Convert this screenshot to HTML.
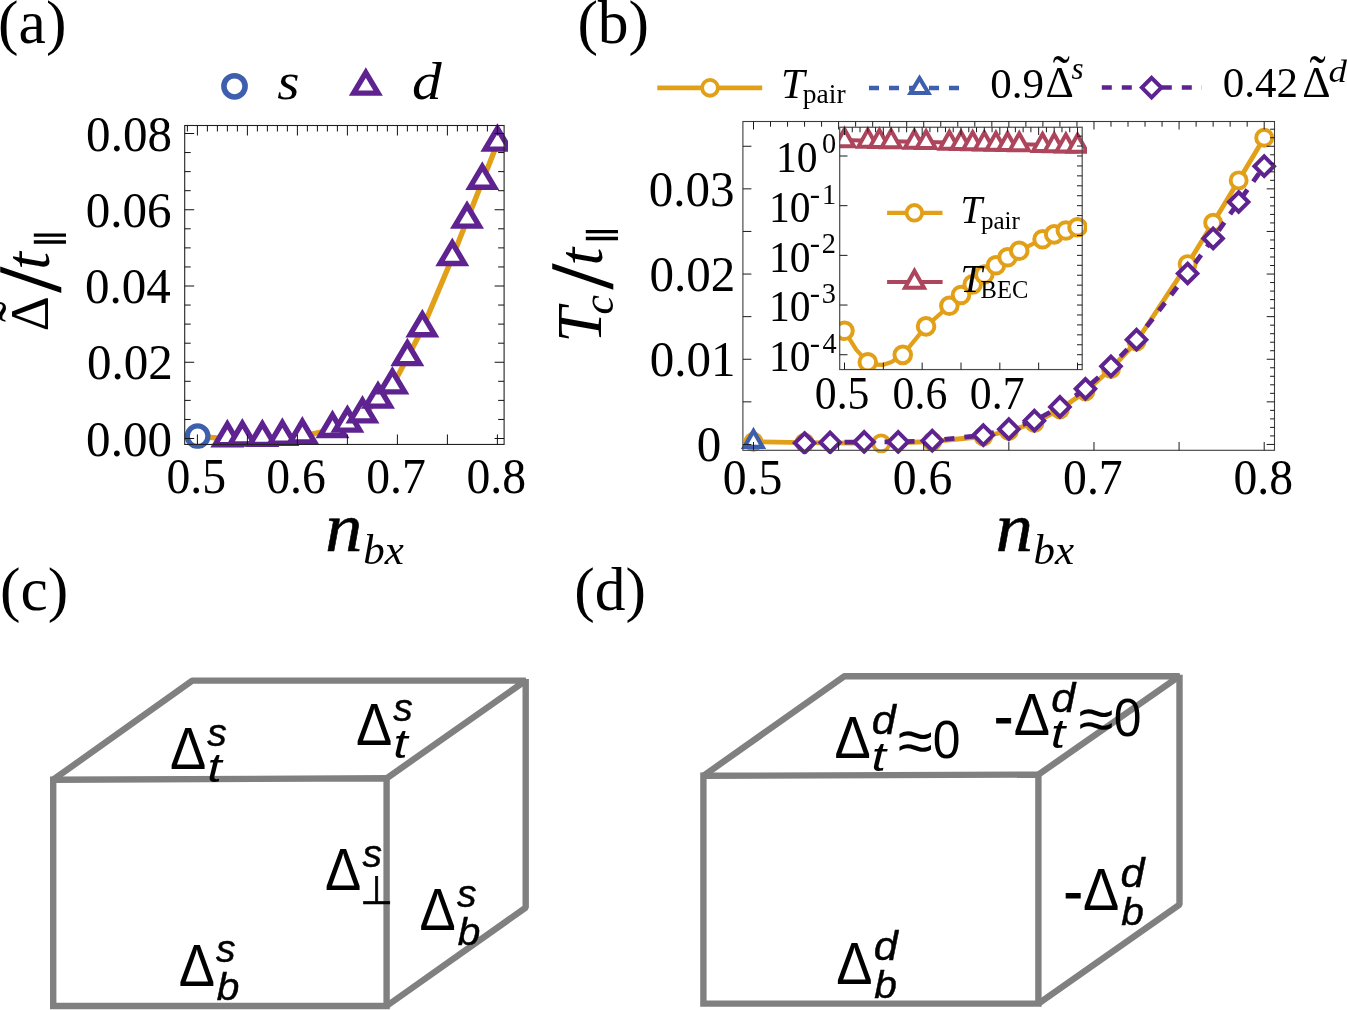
<!DOCTYPE html>
<html lang="en"><head><meta charset="utf-8"><title>Figure</title>
<style>
html,body{margin:0;padding:0;background:#fff;}
body{width:1347px;height:1010px;overflow:hidden;font-family:"Liberation Serif",serif;}
svg{display:block;}
svg text{font-kerning:none;white-space:pre;}
</style></head><body>
<svg width="1347" height="1010" viewBox="0 0 1347 1010">
<rect width="1347" height="1010" fill="#fff"/>
<text x="-1.90" y="43.30" font-family='"Liberation Serif", serif' font-size="61.5" fill="#000">(a)</text>
<text x="577.40" y="43.30" font-family='"Liberation Serif", serif' font-size="61.5" fill="#000">(b)</text>
<text x="-0.10" y="609.80" font-family='"Liberation Serif", serif' font-size="61.5" fill="#000">(c)</text>
<text x="574.20" y="609.80" font-family='"Liberation Serif", serif' font-size="61.5" fill="#000">(d)</text>
<clipPath id="ca"><rect x="184.2" y="121.2" width="323.8" height="327.55"/></clipPath>
<g clip-path="url(#ca)">
<path d="M197.60 436.20L227.35 438.90L242.35 438.20L262.35 438.60L282.35 437.40L302.35 436.20L332.50 429.70L347.40 424.30L362.50 415.10L378.00 400.30L392.40 386.10L407.35 357.80L422.35 328.90L452.30 257.70L467.00 220.30L482.30 181.40L497.40 143.30" fill="none" stroke="#E2A018" stroke-width="5.4" stroke-linejoin="round"/>
<circle cx="197.60" cy="436.20" r="10.3" fill="#fff" stroke="#3E5FAD" stroke-width="5.2"/>
<path d="M227.35 424.10L239.60 444.70L215.10 444.70Z" fill="#fff" stroke="#5E2390" stroke-width="5.4" stroke-linejoin="miter" stroke-miterlimit="10"/>
<path d="M242.35 423.40L254.60 444.00L230.10 444.00Z" fill="#fff" stroke="#5E2390" stroke-width="5.4" stroke-linejoin="miter" stroke-miterlimit="10"/>
<path d="M262.35 423.80L274.60 444.40L250.10 444.40Z" fill="#fff" stroke="#5E2390" stroke-width="5.4" stroke-linejoin="miter" stroke-miterlimit="10"/>
<path d="M282.35 422.60L294.60 443.20L270.10 443.20Z" fill="#fff" stroke="#5E2390" stroke-width="5.4" stroke-linejoin="miter" stroke-miterlimit="10"/>
<path d="M302.35 421.40L314.60 442.00L290.10 442.00Z" fill="#fff" stroke="#5E2390" stroke-width="5.4" stroke-linejoin="miter" stroke-miterlimit="10"/>
<path d="M332.50 414.90L344.75 435.50L320.25 435.50Z" fill="#fff" stroke="#5E2390" stroke-width="5.4" stroke-linejoin="miter" stroke-miterlimit="10"/>
<path d="M347.40 409.50L359.65 430.10L335.15 430.10Z" fill="#fff" stroke="#5E2390" stroke-width="5.4" stroke-linejoin="miter" stroke-miterlimit="10"/>
<path d="M362.50 400.30L374.75 420.90L350.25 420.90Z" fill="#fff" stroke="#5E2390" stroke-width="5.4" stroke-linejoin="miter" stroke-miterlimit="10"/>
<path d="M378.00 385.50L390.25 406.10L365.75 406.10Z" fill="#fff" stroke="#5E2390" stroke-width="5.4" stroke-linejoin="miter" stroke-miterlimit="10"/>
<path d="M392.40 371.30L404.65 391.90L380.15 391.90Z" fill="#fff" stroke="#5E2390" stroke-width="5.4" stroke-linejoin="miter" stroke-miterlimit="10"/>
<path d="M407.35 343.00L419.60 363.60L395.10 363.60Z" fill="#fff" stroke="#5E2390" stroke-width="5.4" stroke-linejoin="miter" stroke-miterlimit="10"/>
<path d="M422.35 314.10L434.60 334.70L410.10 334.70Z" fill="#fff" stroke="#5E2390" stroke-width="5.4" stroke-linejoin="miter" stroke-miterlimit="10"/>
<path d="M452.30 242.90L464.55 263.50L440.05 263.50Z" fill="#fff" stroke="#5E2390" stroke-width="5.4" stroke-linejoin="miter" stroke-miterlimit="10"/>
<path d="M467.00 205.50L479.25 226.10L454.75 226.10Z" fill="#fff" stroke="#5E2390" stroke-width="5.4" stroke-linejoin="miter" stroke-miterlimit="10"/>
<path d="M482.30 166.60L494.55 187.20L470.05 187.20Z" fill="#fff" stroke="#5E2390" stroke-width="5.4" stroke-linejoin="miter" stroke-miterlimit="10"/>
<path d="M497.40 128.50L509.65 149.10L485.15 149.10Z" fill="#fff" stroke="#5E2390" stroke-width="5.4" stroke-linejoin="miter" stroke-miterlimit="10"/>
</g>
<rect x="184.7" y="125.5" width="319.40000000000003" height="318.95" fill="none" stroke="#222" stroke-width="1.1"/>
<line x1="187.40" y1="125.50" x2="187.40" y2="131.50" stroke="#111" stroke-width="1"/>
<line x1="197.40" y1="125.50" x2="197.40" y2="135.50" stroke="#111" stroke-width="1"/>
<line x1="197.40" y1="444.45" x2="197.40" y2="434.45" stroke="#111" stroke-width="1"/>
<line x1="207.40" y1="125.50" x2="207.40" y2="131.50" stroke="#111" stroke-width="1"/>
<line x1="217.40" y1="125.50" x2="217.40" y2="131.50" stroke="#111" stroke-width="1"/>
<line x1="227.40" y1="125.50" x2="227.40" y2="131.50" stroke="#111" stroke-width="1"/>
<line x1="237.40" y1="125.50" x2="237.40" y2="131.50" stroke="#111" stroke-width="1"/>
<line x1="247.40" y1="125.50" x2="247.40" y2="135.50" stroke="#111" stroke-width="1"/>
<line x1="247.40" y1="444.45" x2="247.40" y2="434.45" stroke="#111" stroke-width="1"/>
<line x1="257.40" y1="125.50" x2="257.40" y2="131.50" stroke="#111" stroke-width="1"/>
<line x1="267.40" y1="125.50" x2="267.40" y2="131.50" stroke="#111" stroke-width="1"/>
<line x1="277.40" y1="125.50" x2="277.40" y2="131.50" stroke="#111" stroke-width="1"/>
<line x1="287.40" y1="125.50" x2="287.40" y2="131.50" stroke="#111" stroke-width="1"/>
<line x1="297.40" y1="125.50" x2="297.40" y2="135.50" stroke="#111" stroke-width="1"/>
<line x1="297.40" y1="444.45" x2="297.40" y2="434.45" stroke="#111" stroke-width="1"/>
<line x1="307.40" y1="125.50" x2="307.40" y2="131.50" stroke="#111" stroke-width="1"/>
<line x1="317.40" y1="125.50" x2="317.40" y2="131.50" stroke="#111" stroke-width="1"/>
<line x1="327.40" y1="125.50" x2="327.40" y2="131.50" stroke="#111" stroke-width="1"/>
<line x1="337.40" y1="125.50" x2="337.40" y2="131.50" stroke="#111" stroke-width="1"/>
<line x1="347.40" y1="125.50" x2="347.40" y2="135.50" stroke="#111" stroke-width="1"/>
<line x1="347.40" y1="444.45" x2="347.40" y2="434.45" stroke="#111" stroke-width="1"/>
<line x1="357.40" y1="125.50" x2="357.40" y2="131.50" stroke="#111" stroke-width="1"/>
<line x1="367.40" y1="125.50" x2="367.40" y2="131.50" stroke="#111" stroke-width="1"/>
<line x1="377.40" y1="125.50" x2="377.40" y2="131.50" stroke="#111" stroke-width="1"/>
<line x1="387.40" y1="125.50" x2="387.40" y2="131.50" stroke="#111" stroke-width="1"/>
<line x1="397.40" y1="125.50" x2="397.40" y2="135.50" stroke="#111" stroke-width="1"/>
<line x1="397.40" y1="444.45" x2="397.40" y2="434.45" stroke="#111" stroke-width="1"/>
<line x1="407.40" y1="125.50" x2="407.40" y2="131.50" stroke="#111" stroke-width="1"/>
<line x1="417.40" y1="125.50" x2="417.40" y2="131.50" stroke="#111" stroke-width="1"/>
<line x1="427.40" y1="125.50" x2="427.40" y2="131.50" stroke="#111" stroke-width="1"/>
<line x1="437.40" y1="125.50" x2="437.40" y2="131.50" stroke="#111" stroke-width="1"/>
<line x1="447.40" y1="125.50" x2="447.40" y2="135.50" stroke="#111" stroke-width="1"/>
<line x1="447.40" y1="444.45" x2="447.40" y2="434.45" stroke="#111" stroke-width="1"/>
<line x1="457.40" y1="125.50" x2="457.40" y2="131.50" stroke="#111" stroke-width="1"/>
<line x1="467.40" y1="125.50" x2="467.40" y2="131.50" stroke="#111" stroke-width="1"/>
<line x1="477.40" y1="125.50" x2="477.40" y2="131.50" stroke="#111" stroke-width="1"/>
<line x1="487.40" y1="125.50" x2="487.40" y2="131.50" stroke="#111" stroke-width="1"/>
<line x1="497.40" y1="125.50" x2="497.40" y2="135.50" stroke="#111" stroke-width="1"/>
<line x1="497.40" y1="444.45" x2="497.40" y2="434.45" stroke="#111" stroke-width="1"/>
<line x1="184.70" y1="438.50" x2="194.20" y2="438.50" stroke="#111" stroke-width="1"/>
<line x1="504.10" y1="438.50" x2="494.60" y2="438.50" stroke="#111" stroke-width="1"/>
<line x1="184.70" y1="419.44" x2="190.70" y2="419.44" stroke="#111" stroke-width="1"/>
<line x1="504.10" y1="419.44" x2="498.10" y2="419.44" stroke="#111" stroke-width="1"/>
<line x1="184.70" y1="400.38" x2="190.70" y2="400.38" stroke="#111" stroke-width="1"/>
<line x1="504.10" y1="400.38" x2="498.10" y2="400.38" stroke="#111" stroke-width="1"/>
<line x1="184.70" y1="381.31" x2="190.70" y2="381.31" stroke="#111" stroke-width="1"/>
<line x1="504.10" y1="381.31" x2="498.10" y2="381.31" stroke="#111" stroke-width="1"/>
<line x1="184.70" y1="362.25" x2="194.20" y2="362.25" stroke="#111" stroke-width="1"/>
<line x1="504.10" y1="362.25" x2="494.60" y2="362.25" stroke="#111" stroke-width="1"/>
<line x1="184.70" y1="343.19" x2="190.70" y2="343.19" stroke="#111" stroke-width="1"/>
<line x1="504.10" y1="343.19" x2="498.10" y2="343.19" stroke="#111" stroke-width="1"/>
<line x1="184.70" y1="324.12" x2="190.70" y2="324.12" stroke="#111" stroke-width="1"/>
<line x1="504.10" y1="324.12" x2="498.10" y2="324.12" stroke="#111" stroke-width="1"/>
<line x1="184.70" y1="305.06" x2="190.70" y2="305.06" stroke="#111" stroke-width="1"/>
<line x1="504.10" y1="305.06" x2="498.10" y2="305.06" stroke="#111" stroke-width="1"/>
<line x1="184.70" y1="286.00" x2="194.20" y2="286.00" stroke="#111" stroke-width="1"/>
<line x1="504.10" y1="286.00" x2="494.60" y2="286.00" stroke="#111" stroke-width="1"/>
<line x1="184.70" y1="266.94" x2="190.70" y2="266.94" stroke="#111" stroke-width="1"/>
<line x1="504.10" y1="266.94" x2="498.10" y2="266.94" stroke="#111" stroke-width="1"/>
<line x1="184.70" y1="247.88" x2="190.70" y2="247.88" stroke="#111" stroke-width="1"/>
<line x1="504.10" y1="247.88" x2="498.10" y2="247.88" stroke="#111" stroke-width="1"/>
<line x1="184.70" y1="228.81" x2="190.70" y2="228.81" stroke="#111" stroke-width="1"/>
<line x1="504.10" y1="228.81" x2="498.10" y2="228.81" stroke="#111" stroke-width="1"/>
<line x1="184.70" y1="209.75" x2="194.20" y2="209.75" stroke="#111" stroke-width="1"/>
<line x1="504.10" y1="209.75" x2="494.60" y2="209.75" stroke="#111" stroke-width="1"/>
<line x1="184.70" y1="190.69" x2="190.70" y2="190.69" stroke="#111" stroke-width="1"/>
<line x1="504.10" y1="190.69" x2="498.10" y2="190.69" stroke="#111" stroke-width="1"/>
<line x1="184.70" y1="171.62" x2="190.70" y2="171.62" stroke="#111" stroke-width="1"/>
<line x1="504.10" y1="171.62" x2="498.10" y2="171.62" stroke="#111" stroke-width="1"/>
<line x1="184.70" y1="152.56" x2="190.70" y2="152.56" stroke="#111" stroke-width="1"/>
<line x1="504.10" y1="152.56" x2="498.10" y2="152.56" stroke="#111" stroke-width="1"/>
<line x1="184.70" y1="133.50" x2="194.20" y2="133.50" stroke="#111" stroke-width="1"/>
<line x1="504.10" y1="133.50" x2="494.60" y2="133.50" stroke="#111" stroke-width="1"/>
<text x="0" y="0" transform="translate(86.11 455.60) scale(0.9620 1)" font-family='"Liberation Serif", serif' font-size="51" fill="#000">0.00</text>
<text x="0" y="0" transform="translate(86.95 379.35) scale(0.9620 1)" font-family='"Liberation Serif", serif' font-size="51" fill="#000">0.02</text>
<text x="0" y="0" transform="translate(85.01 303.10) scale(0.9620 1)" font-family='"Liberation Serif", serif' font-size="51" fill="#000">0.04</text>
<text x="0" y="0" transform="translate(85.70 226.85) scale(0.9620 1)" font-family='"Liberation Serif", serif' font-size="51" fill="#000">0.06</text>
<text x="0" y="0" transform="translate(86.11 150.60) scale(0.9620 1)" font-family='"Liberation Serif", serif' font-size="51" fill="#000">0.08</text>
<text x="0" y="0" transform="translate(166.42 492.50) scale(0.9350 1)" font-family='"Liberation Serif", serif' font-size="51" fill="#000">0.5</text>
<text x="0" y="0" transform="translate(266.20 492.50) scale(0.9350 1)" font-family='"Liberation Serif", serif' font-size="51" fill="#000">0.6</text>
<text x="0" y="0" transform="translate(366.18 492.50) scale(0.9350 1)" font-family='"Liberation Serif", serif' font-size="51" fill="#000">0.7</text>
<text x="0" y="0" transform="translate(466.40 492.50) scale(0.9350 1)" font-family='"Liberation Serif", serif' font-size="51" fill="#000">0.8</text>
<circle cx="234.50" cy="86.30" r="10.6" fill="#fff" stroke="#3E5FAD" stroke-width="5.55"/>
<text x="0" y="0" transform="translate(277.20 99.00) scale(1.0800 1)" font-family='"Liberation Serif", serif' font-size="53" font-style="italic" fill="#000">s</text>
<path d="M365.84 72.53L378.09 93.13L353.59 93.13Z" fill="#fff" stroke="#5E2390" stroke-width="5.4" stroke-linejoin="miter" stroke-miterlimit="10"/>
<text x="0" y="0" transform="translate(411.90 99.00) scale(1.1200 1)" font-family='"Liberation Serif", serif' font-size="53" font-style="italic" fill="#000">d</text>
<text x="0" y="0" transform="translate(325.26 550.80) scale(1.0600 1)" font-family='"Liberation Serif", serif' font-size="70" font-style="italic" fill="#000" stroke="#000" stroke-width="0.6" stroke-linejoin="round">n</text>
<text x="363.30" y="563.80" font-family='"Liberation Serif", serif' font-size="43" font-style="italic" fill="#000">bx</text>
<g transform="translate(48.3 329.2) rotate(-90)">
<text x="0" y="0" transform="translate(-2.08 0.00) scale(1.0100 1)" font-family='"Liberation Serif", serif' font-size="54" fill="#000">Δ</text>
<text x="0" y="0" transform="translate(6.95 -12.50) scale(1.1500 1)" font-family='"Liberation Serif", serif' font-size="54" fill="#000">˜</text>
</g>
<g transform="translate(48.3 291.9) rotate(-90)">
<text x="0.00" y="11.00" font-family='"Liberation Serif", serif' font-size="88" fill="#000" stroke="#000" stroke-width="1.6">/</text>
</g>
<g transform="translate(48.8 267.0) rotate(-90)">
<text x="-2.81" y="0.00" font-family='"Liberation Serif", serif' font-size="64" font-style="italic" fill="#000">t</text>
</g>
<g transform="translate(59.1 243.8) rotate(-90)">
<text x="0" y="0" transform="translate(-5.91 0.00) scale(1.3600 1)" font-family='"DejaVu Sans", sans-serif' font-size="32.7" fill="#000">∥</text>
</g>
<clipPath id="cb"><rect x="740.4" y="117.5" width="538.1" height="336.8"/></clipPath>
<g clip-path="url(#cb)">
<path d="M753.50 441.80L804.57 442.60L881.17 443.40L932.25 441.50L983.32 436.50L1008.85 431.00L1034.39 423.00L1059.92 409.50L1085.45 391.50L1110.99 369.00L1136.53 341.50L1187.60 264.10L1213.13 222.70L1238.66 180.40L1264.20 137.80" fill="none" stroke="#E2A018" stroke-width="4.8" stroke-linejoin="round"/>
<circle cx="753.50" cy="441.80" r="8.0" fill="#fff" stroke="#E2A018" stroke-width="3.9"/>
<circle cx="804.57" cy="442.60" r="8.0" fill="#fff" stroke="#E2A018" stroke-width="3.9"/>
<circle cx="881.17" cy="443.40" r="8.0" fill="#fff" stroke="#E2A018" stroke-width="3.9"/>
<circle cx="932.25" cy="441.50" r="8.0" fill="#fff" stroke="#E2A018" stroke-width="3.9"/>
<circle cx="983.32" cy="436.50" r="8.0" fill="#fff" stroke="#E2A018" stroke-width="3.9"/>
<circle cx="1008.85" cy="431.00" r="8.0" fill="#fff" stroke="#E2A018" stroke-width="3.9"/>
<circle cx="1034.39" cy="423.00" r="8.0" fill="#fff" stroke="#E2A018" stroke-width="3.9"/>
<circle cx="1059.92" cy="409.50" r="8.0" fill="#fff" stroke="#E2A018" stroke-width="3.9"/>
<circle cx="1085.45" cy="391.50" r="8.0" fill="#fff" stroke="#E2A018" stroke-width="3.9"/>
<circle cx="1110.99" cy="369.00" r="8.0" fill="#fff" stroke="#E2A018" stroke-width="3.9"/>
<circle cx="1136.53" cy="341.50" r="8.0" fill="#fff" stroke="#E2A018" stroke-width="3.9"/>
<circle cx="1187.60" cy="264.10" r="8.0" fill="#fff" stroke="#E2A018" stroke-width="3.9"/>
<circle cx="1213.13" cy="222.70" r="8.0" fill="#fff" stroke="#E2A018" stroke-width="3.9"/>
<circle cx="1238.66" cy="180.40" r="8.0" fill="#fff" stroke="#E2A018" stroke-width="3.9"/>
<circle cx="1264.20" cy="137.80" r="8.0" fill="#fff" stroke="#E2A018" stroke-width="3.9"/>
<path d="M753.50 431.00L762.60 446.95L744.40 446.95Z" fill="#fff" stroke="#3E5FAD" stroke-width="4.2" stroke-linejoin="miter" stroke-miterlimit="10"/>
<path d="M804.57 443.00L830.11 442.40L864.15 441.90L898.20 441.90L932.25 440.70L983.32 435.10L1008.85 429.20L1034.39 420.70L1059.92 406.90L1085.45 388.80L1110.99 366.30L1136.53 339.70L1187.60 273.50L1213.13 238.40L1238.66 202.00L1264.20 166.20" fill="none" stroke="#5E2390" stroke-width="4.8" stroke-linejoin="round" stroke-dasharray="10 10"/>
<path d="M804.57 433.25L814.32 443.00L804.57 452.75L794.82 443.00Z" fill="#fff" stroke="#5E2390" stroke-width="4" stroke-linejoin="miter"/>
<path d="M830.11 432.65L839.86 442.40L830.11 452.15L820.36 442.40Z" fill="#fff" stroke="#5E2390" stroke-width="4" stroke-linejoin="miter"/>
<path d="M864.15 432.15L873.90 441.90L864.15 451.65L854.40 441.90Z" fill="#fff" stroke="#5E2390" stroke-width="4" stroke-linejoin="miter"/>
<path d="M898.20 432.15L907.95 441.90L898.20 451.65L888.45 441.90Z" fill="#fff" stroke="#5E2390" stroke-width="4" stroke-linejoin="miter"/>
<path d="M932.25 430.95L942.00 440.70L932.25 450.45L922.50 440.70Z" fill="#fff" stroke="#5E2390" stroke-width="4" stroke-linejoin="miter"/>
<path d="M983.32 425.35L993.07 435.10L983.32 444.85L973.57 435.10Z" fill="#fff" stroke="#5E2390" stroke-width="4" stroke-linejoin="miter"/>
<path d="M1008.85 419.45L1018.60 429.20L1008.85 438.95L999.10 429.20Z" fill="#fff" stroke="#5E2390" stroke-width="4" stroke-linejoin="miter"/>
<path d="M1034.39 410.95L1044.14 420.70L1034.39 430.45L1024.64 420.70Z" fill="#fff" stroke="#5E2390" stroke-width="4" stroke-linejoin="miter"/>
<path d="M1059.92 397.15L1069.67 406.90L1059.92 416.65L1050.17 406.90Z" fill="#fff" stroke="#5E2390" stroke-width="4" stroke-linejoin="miter"/>
<path d="M1085.45 379.05L1095.20 388.80L1085.45 398.55L1075.70 388.80Z" fill="#fff" stroke="#5E2390" stroke-width="4" stroke-linejoin="miter"/>
<path d="M1110.99 356.55L1120.74 366.30L1110.99 376.05L1101.24 366.30Z" fill="#fff" stroke="#5E2390" stroke-width="4" stroke-linejoin="miter"/>
<path d="M1136.53 329.95L1146.28 339.70L1136.53 349.45L1126.78 339.70Z" fill="#fff" stroke="#5E2390" stroke-width="4" stroke-linejoin="miter"/>
<path d="M1187.60 263.75L1197.35 273.50L1187.60 283.25L1177.85 273.50Z" fill="#fff" stroke="#5E2390" stroke-width="4" stroke-linejoin="miter"/>
<path d="M1213.13 228.65L1222.88 238.40L1213.13 248.15L1203.38 238.40Z" fill="#fff" stroke="#5E2390" stroke-width="4" stroke-linejoin="miter"/>
<path d="M1238.66 192.25L1248.41 202.00L1238.66 211.75L1228.91 202.00Z" fill="#fff" stroke="#5E2390" stroke-width="4" stroke-linejoin="miter"/>
<path d="M1264.20 156.45L1273.95 166.20L1264.20 175.95L1254.45 166.20Z" fill="#fff" stroke="#5E2390" stroke-width="4" stroke-linejoin="miter"/>
</g>
<rect x="839.7" y="127.25" width="242.5" height="242.3" fill="#fff"/>
<clipPath id="ci"><rect x="839.3000000000001" y="124.65" width="247.7" height="245.20000000000002"/></clipPath>
<g clip-path="url(#ci)">
<path d="M844.50 140.10L867.80 140.65L879.45 140.93L891.10 141.20L914.40 141.75L926.05 142.03L949.35 142.57L961.00 142.85L972.65 143.12L984.30 143.40L995.95 143.68L1007.60 143.95L1019.25 144.23L1042.55 144.78L1054.20 145.05L1065.85 145.33L1077.50 145.60" fill="none" stroke="#AD455C" stroke-width="4" stroke-linejoin="round"/>
<path d="M844.50 129.30L854.00 146.20L835.00 146.20Z" fill="#fff" stroke="#AD455C" stroke-width="4" stroke-linejoin="miter" stroke-miterlimit="10"/>
<path d="M867.80 129.85L877.30 146.75L858.30 146.75Z" fill="#fff" stroke="#AD455C" stroke-width="4" stroke-linejoin="miter" stroke-miterlimit="10"/>
<path d="M879.45 130.12L888.95 147.03L869.95 147.03Z" fill="#fff" stroke="#AD455C" stroke-width="4" stroke-linejoin="miter" stroke-miterlimit="10"/>
<path d="M891.10 130.40L900.60 147.30L881.60 147.30Z" fill="#fff" stroke="#AD455C" stroke-width="4" stroke-linejoin="miter" stroke-miterlimit="10"/>
<path d="M914.40 130.95L923.90 147.85L904.90 147.85Z" fill="#fff" stroke="#AD455C" stroke-width="4" stroke-linejoin="miter" stroke-miterlimit="10"/>
<path d="M926.05 131.22L935.55 148.12L916.55 148.12Z" fill="#fff" stroke="#AD455C" stroke-width="4" stroke-linejoin="miter" stroke-miterlimit="10"/>
<path d="M949.35 131.77L958.85 148.67L939.85 148.67Z" fill="#fff" stroke="#AD455C" stroke-width="4" stroke-linejoin="miter" stroke-miterlimit="10"/>
<path d="M961.00 132.05L970.50 148.95L951.50 148.95Z" fill="#fff" stroke="#AD455C" stroke-width="4" stroke-linejoin="miter" stroke-miterlimit="10"/>
<path d="M972.65 132.32L982.15 149.22L963.15 149.22Z" fill="#fff" stroke="#AD455C" stroke-width="4" stroke-linejoin="miter" stroke-miterlimit="10"/>
<path d="M984.30 132.60L993.80 149.50L974.80 149.50Z" fill="#fff" stroke="#AD455C" stroke-width="4" stroke-linejoin="miter" stroke-miterlimit="10"/>
<path d="M995.95 132.88L1005.45 149.78L986.45 149.78Z" fill="#fff" stroke="#AD455C" stroke-width="4" stroke-linejoin="miter" stroke-miterlimit="10"/>
<path d="M1007.60 133.15L1017.10 150.05L998.10 150.05Z" fill="#fff" stroke="#AD455C" stroke-width="4" stroke-linejoin="miter" stroke-miterlimit="10"/>
<path d="M1019.25 133.43L1028.75 150.33L1009.75 150.33Z" fill="#fff" stroke="#AD455C" stroke-width="4" stroke-linejoin="miter" stroke-miterlimit="10"/>
<path d="M1042.55 133.97L1052.05 150.88L1033.05 150.88Z" fill="#fff" stroke="#AD455C" stroke-width="4" stroke-linejoin="miter" stroke-miterlimit="10"/>
<path d="M1054.20 134.25L1063.70 151.15L1044.70 151.15Z" fill="#fff" stroke="#AD455C" stroke-width="4" stroke-linejoin="miter" stroke-miterlimit="10"/>
<path d="M1065.85 134.53L1075.35 151.43L1056.35 151.43Z" fill="#fff" stroke="#AD455C" stroke-width="4" stroke-linejoin="miter" stroke-miterlimit="10"/>
<path d="M1077.50 134.80L1087.00 151.70L1068.00 151.70Z" fill="#fff" stroke="#AD455C" stroke-width="4" stroke-linejoin="miter" stroke-miterlimit="10"/>
<path d="M844.50 330.80L856.20 349.60L867.80 362.30L876.00 364.70L883.50 364.80L891.50 362.00L902.75 354.85L926.05 326.40L949.35 305.70L961.00 295.00L972.65 284.40L984.30 274.50L995.95 265.30L1007.60 257.30L1019.25 250.70L1042.55 239.20L1054.20 234.40L1065.85 230.50L1077.50 227.30" fill="none" stroke="#E2A018" stroke-width="4.2" stroke-linejoin="round"/>
<circle cx="844.50" cy="330.80" r="8.3" fill="#fff" stroke="#E2A018" stroke-width="4.0"/>
<circle cx="867.80" cy="362.30" r="8.3" fill="#fff" stroke="#E2A018" stroke-width="4.0"/>
<circle cx="902.75" cy="354.85" r="8.3" fill="#fff" stroke="#E2A018" stroke-width="4.0"/>
<circle cx="926.05" cy="326.40" r="8.3" fill="#fff" stroke="#E2A018" stroke-width="4.0"/>
<circle cx="949.35" cy="305.70" r="8.3" fill="#fff" stroke="#E2A018" stroke-width="4.0"/>
<circle cx="961.00" cy="295.00" r="8.3" fill="#fff" stroke="#E2A018" stroke-width="4.0"/>
<circle cx="972.65" cy="284.40" r="8.3" fill="#fff" stroke="#E2A018" stroke-width="4.0"/>
<circle cx="984.30" cy="274.50" r="8.3" fill="#fff" stroke="#E2A018" stroke-width="4.0"/>
<circle cx="995.95" cy="265.30" r="8.3" fill="#fff" stroke="#E2A018" stroke-width="4.0"/>
<circle cx="1007.60" cy="257.30" r="8.3" fill="#fff" stroke="#E2A018" stroke-width="4.0"/>
<circle cx="1019.25" cy="250.70" r="8.3" fill="#fff" stroke="#E2A018" stroke-width="4.0"/>
<circle cx="1042.55" cy="239.20" r="8.3" fill="#fff" stroke="#E2A018" stroke-width="4.0"/>
<circle cx="1054.20" cy="234.40" r="8.3" fill="#fff" stroke="#E2A018" stroke-width="4.0"/>
<circle cx="1065.85" cy="230.50" r="8.3" fill="#fff" stroke="#E2A018" stroke-width="4.0"/>
<circle cx="1077.50" cy="227.30" r="8.3" fill="#fff" stroke="#E2A018" stroke-width="4.0"/>
</g>
<line x1="887.10" y1="212.80" x2="942.50" y2="212.80" stroke="#E2A018" stroke-width="4.2"/>
<circle cx="914.40" cy="212.80" r="7.8" fill="#fff" stroke="#E2A018" stroke-width="3.9"/>
<text x="960.55" y="223.00" font-family='"Liberation Serif", serif' font-size="39" font-style="italic" fill="#000">T</text>
<text x="980.90" y="229.00" font-family='"Liberation Serif", serif' font-size="25" fill="#000">pair</text>
<line x1="887.10" y1="282.00" x2="942.60" y2="282.00" stroke="#AD455C" stroke-width="4"/>
<path d="M914.50 270.90L924.00 287.80L905.00 287.80Z" fill="#fff" stroke="#AD455C" stroke-width="4" stroke-linejoin="miter" stroke-miterlimit="10"/>
<text x="960.55" y="291.60" font-family='"Liberation Serif", serif' font-size="39" font-style="italic" fill="#000">T</text>
<text x="980.59" y="298.00" font-family='"Liberation Serif", serif' font-size="24.5" fill="#000">BEC</text>
<rect x="839.7" y="127.25" width="242.5" height="242.3" fill="none" stroke="#4a4a4a" stroke-width="1.2"/>
<line x1="844.50" y1="127.25" x2="844.50" y2="135.05" stroke="#1a1a1a" stroke-width="1"/>
<line x1="844.50" y1="369.55" x2="844.50" y2="362.55" stroke="#1a1a1a" stroke-width="1"/>
<line x1="852.27" y1="127.25" x2="852.27" y2="132.25" stroke="#1a1a1a" stroke-width="1"/>
<line x1="860.03" y1="127.25" x2="860.03" y2="132.25" stroke="#1a1a1a" stroke-width="1"/>
<line x1="867.80" y1="127.25" x2="867.80" y2="132.25" stroke="#1a1a1a" stroke-width="1"/>
<line x1="875.57" y1="127.25" x2="875.57" y2="132.25" stroke="#1a1a1a" stroke-width="1"/>
<line x1="883.33" y1="127.25" x2="883.33" y2="135.05" stroke="#1a1a1a" stroke-width="1"/>
<line x1="883.33" y1="369.55" x2="883.33" y2="362.55" stroke="#1a1a1a" stroke-width="1"/>
<line x1="891.10" y1="127.25" x2="891.10" y2="132.25" stroke="#1a1a1a" stroke-width="1"/>
<line x1="898.87" y1="127.25" x2="898.87" y2="132.25" stroke="#1a1a1a" stroke-width="1"/>
<line x1="906.63" y1="127.25" x2="906.63" y2="132.25" stroke="#1a1a1a" stroke-width="1"/>
<line x1="914.40" y1="127.25" x2="914.40" y2="132.25" stroke="#1a1a1a" stroke-width="1"/>
<line x1="922.17" y1="127.25" x2="922.17" y2="135.05" stroke="#1a1a1a" stroke-width="1"/>
<line x1="922.17" y1="369.55" x2="922.17" y2="362.55" stroke="#1a1a1a" stroke-width="1"/>
<line x1="929.93" y1="127.25" x2="929.93" y2="132.25" stroke="#1a1a1a" stroke-width="1"/>
<line x1="937.70" y1="127.25" x2="937.70" y2="132.25" stroke="#1a1a1a" stroke-width="1"/>
<line x1="945.47" y1="127.25" x2="945.47" y2="132.25" stroke="#1a1a1a" stroke-width="1"/>
<line x1="953.23" y1="127.25" x2="953.23" y2="132.25" stroke="#1a1a1a" stroke-width="1"/>
<line x1="961.00" y1="127.25" x2="961.00" y2="135.05" stroke="#1a1a1a" stroke-width="1"/>
<line x1="961.00" y1="369.55" x2="961.00" y2="362.55" stroke="#1a1a1a" stroke-width="1"/>
<line x1="968.77" y1="127.25" x2="968.77" y2="132.25" stroke="#1a1a1a" stroke-width="1"/>
<line x1="976.53" y1="127.25" x2="976.53" y2="132.25" stroke="#1a1a1a" stroke-width="1"/>
<line x1="984.30" y1="127.25" x2="984.30" y2="132.25" stroke="#1a1a1a" stroke-width="1"/>
<line x1="992.07" y1="127.25" x2="992.07" y2="132.25" stroke="#1a1a1a" stroke-width="1"/>
<line x1="999.83" y1="127.25" x2="999.83" y2="135.05" stroke="#1a1a1a" stroke-width="1"/>
<line x1="999.83" y1="369.55" x2="999.83" y2="362.55" stroke="#1a1a1a" stroke-width="1"/>
<line x1="1007.60" y1="127.25" x2="1007.60" y2="132.25" stroke="#1a1a1a" stroke-width="1"/>
<line x1="1015.37" y1="127.25" x2="1015.37" y2="132.25" stroke="#1a1a1a" stroke-width="1"/>
<line x1="1023.13" y1="127.25" x2="1023.13" y2="132.25" stroke="#1a1a1a" stroke-width="1"/>
<line x1="1030.90" y1="127.25" x2="1030.90" y2="132.25" stroke="#1a1a1a" stroke-width="1"/>
<line x1="1038.67" y1="127.25" x2="1038.67" y2="135.05" stroke="#1a1a1a" stroke-width="1"/>
<line x1="1038.67" y1="369.55" x2="1038.67" y2="362.55" stroke="#1a1a1a" stroke-width="1"/>
<line x1="1046.43" y1="127.25" x2="1046.43" y2="132.25" stroke="#1a1a1a" stroke-width="1"/>
<line x1="1054.20" y1="127.25" x2="1054.20" y2="132.25" stroke="#1a1a1a" stroke-width="1"/>
<line x1="1061.97" y1="127.25" x2="1061.97" y2="132.25" stroke="#1a1a1a" stroke-width="1"/>
<line x1="1069.73" y1="127.25" x2="1069.73" y2="132.25" stroke="#1a1a1a" stroke-width="1"/>
<line x1="1077.50" y1="127.25" x2="1077.50" y2="135.05" stroke="#1a1a1a" stroke-width="1"/>
<line x1="1077.50" y1="369.55" x2="1077.50" y2="362.55" stroke="#1a1a1a" stroke-width="1"/>
<line x1="839.70" y1="156.00" x2="847.50" y2="156.00" stroke="#1a1a1a" stroke-width="1"/>
<line x1="839.70" y1="205.68" x2="847.50" y2="205.68" stroke="#1a1a1a" stroke-width="1"/>
<line x1="839.70" y1="255.36" x2="847.50" y2="255.36" stroke="#1a1a1a" stroke-width="1"/>
<line x1="839.70" y1="305.04" x2="847.50" y2="305.04" stroke="#1a1a1a" stroke-width="1"/>
<line x1="839.70" y1="354.72" x2="847.50" y2="354.72" stroke="#1a1a1a" stroke-width="1"/>
<line x1="1082.20" y1="136.13" x2="1077.00" y2="136.13" stroke="#1a1a1a" stroke-width="1"/>
<line x1="1082.20" y1="146.06" x2="1077.00" y2="146.06" stroke="#1a1a1a" stroke-width="1"/>
<line x1="1082.20" y1="156.00" x2="1077.00" y2="156.00" stroke="#1a1a1a" stroke-width="1"/>
<line x1="1082.20" y1="165.94" x2="1077.00" y2="165.94" stroke="#1a1a1a" stroke-width="1"/>
<line x1="1082.20" y1="175.87" x2="1077.00" y2="175.87" stroke="#1a1a1a" stroke-width="1"/>
<line x1="1082.20" y1="185.81" x2="1077.00" y2="185.81" stroke="#1a1a1a" stroke-width="1"/>
<line x1="1082.20" y1="195.74" x2="1077.00" y2="195.74" stroke="#1a1a1a" stroke-width="1"/>
<line x1="1082.20" y1="205.68" x2="1077.00" y2="205.68" stroke="#1a1a1a" stroke-width="1"/>
<line x1="1082.20" y1="215.62" x2="1077.00" y2="215.62" stroke="#1a1a1a" stroke-width="1"/>
<line x1="1082.20" y1="225.55" x2="1077.00" y2="225.55" stroke="#1a1a1a" stroke-width="1"/>
<line x1="1082.20" y1="235.49" x2="1077.00" y2="235.49" stroke="#1a1a1a" stroke-width="1"/>
<line x1="1082.20" y1="245.42" x2="1077.00" y2="245.42" stroke="#1a1a1a" stroke-width="1"/>
<line x1="1082.20" y1="255.36" x2="1077.00" y2="255.36" stroke="#1a1a1a" stroke-width="1"/>
<line x1="1082.20" y1="265.30" x2="1077.00" y2="265.30" stroke="#1a1a1a" stroke-width="1"/>
<line x1="1082.20" y1="275.23" x2="1077.00" y2="275.23" stroke="#1a1a1a" stroke-width="1"/>
<line x1="1082.20" y1="285.17" x2="1077.00" y2="285.17" stroke="#1a1a1a" stroke-width="1"/>
<line x1="1082.20" y1="295.10" x2="1077.00" y2="295.10" stroke="#1a1a1a" stroke-width="1"/>
<line x1="1082.20" y1="305.04" x2="1077.00" y2="305.04" stroke="#1a1a1a" stroke-width="1"/>
<line x1="1082.20" y1="314.98" x2="1077.00" y2="314.98" stroke="#1a1a1a" stroke-width="1"/>
<line x1="1082.20" y1="324.91" x2="1077.00" y2="324.91" stroke="#1a1a1a" stroke-width="1"/>
<line x1="1082.20" y1="334.85" x2="1077.00" y2="334.85" stroke="#1a1a1a" stroke-width="1"/>
<line x1="1082.20" y1="344.78" x2="1077.00" y2="344.78" stroke="#1a1a1a" stroke-width="1"/>
<line x1="1082.20" y1="354.72" x2="1077.00" y2="354.72" stroke="#1a1a1a" stroke-width="1"/>
<line x1="1082.20" y1="364.66" x2="1077.00" y2="364.66" stroke="#1a1a1a" stroke-width="1"/>
<text x="0" y="0" transform="translate(775.95 172.30) scale(0.9400 1)" font-family='"Liberation Serif", serif' font-size="44.2" fill="#000">10</text>
<text x="0" y="0" transform="translate(821.92 153.30) scale(0.9600 1)" font-family='"Liberation Serif", serif' font-size="29.5" fill="#000">0</text>
<text x="0" y="0" transform="translate(768.95 221.98) scale(0.9400 1)" font-family='"Liberation Serif", serif' font-size="44.2" fill="#000">10</text>
<text x="0" y="0" transform="translate(809.85 203.68) scale(1.0500 1)" font-family='"Liberation Serif", serif' font-size="29.5" fill="#000">-</text>
<text x="0" y="0" transform="translate(822.11 203.68) scale(0.9600 1)" font-family='"Liberation Serif", serif' font-size="29.5" fill="#000">1</text>
<text x="0" y="0" transform="translate(768.95 271.66) scale(0.9400 1)" font-family='"Liberation Serif", serif' font-size="44.2" fill="#000">10</text>
<text x="0" y="0" transform="translate(809.85 253.36) scale(1.0500 1)" font-family='"Liberation Serif", serif' font-size="29.5" fill="#000">-</text>
<text x="0" y="0" transform="translate(821.76 253.36) scale(0.9600 1)" font-family='"Liberation Serif", serif' font-size="29.5" fill="#000">2</text>
<text x="0" y="0" transform="translate(768.95 321.34) scale(0.9400 1)" font-family='"Liberation Serif", serif' font-size="44.2" fill="#000">10</text>
<text x="0" y="0" transform="translate(809.85 303.04) scale(1.0500 1)" font-family='"Liberation Serif", serif' font-size="29.5" fill="#000">-</text>
<text x="0" y="0" transform="translate(821.64 303.04) scale(0.9600 1)" font-family='"Liberation Serif", serif' font-size="29.5" fill="#000">3</text>
<text x="0" y="0" transform="translate(768.95 371.02) scale(0.9400 1)" font-family='"Liberation Serif", serif' font-size="44.2" fill="#000">10</text>
<text x="0" y="0" transform="translate(809.85 352.72) scale(1.0500 1)" font-family='"Liberation Serif", serif' font-size="29.5" fill="#000">-</text>
<text x="0" y="0" transform="translate(822.45 352.72) scale(0.9600 1)" font-family='"Liberation Serif", serif' font-size="29.5" fill="#000">4</text>
<text x="0" y="0" transform="translate(814.77 409.40) scale(0.9350 1)" font-family='"Liberation Serif", serif' font-size="46.8" fill="#000">0.5</text>
<text x="0" y="0" transform="translate(892.57 409.40) scale(0.9350 1)" font-family='"Liberation Serif", serif' font-size="46.8" fill="#000">0.6</text>
<text x="0" y="0" transform="translate(969.85 409.40) scale(0.9350 1)" font-family='"Liberation Serif", serif' font-size="46.8" fill="#000">0.7</text>
<rect x="742.9" y="121.5" width="531.6" height="328.8" fill="none" stroke="#3c3c3c" stroke-width="1.1"/>
<line x1="753.50" y1="121.50" x2="753.50" y2="129.50" stroke="#1a1a1a" stroke-width="1"/>
<line x1="753.50" y1="450.30" x2="753.50" y2="442.00" stroke="#1a1a1a" stroke-width="1"/>
<line x1="770.52" y1="121.50" x2="770.52" y2="126.70" stroke="#1a1a1a" stroke-width="1"/>
<line x1="787.55" y1="121.50" x2="787.55" y2="126.70" stroke="#1a1a1a" stroke-width="1"/>
<line x1="804.57" y1="121.50" x2="804.57" y2="126.70" stroke="#1a1a1a" stroke-width="1"/>
<line x1="821.59" y1="121.50" x2="821.59" y2="126.70" stroke="#1a1a1a" stroke-width="1"/>
<line x1="838.62" y1="121.50" x2="838.62" y2="129.50" stroke="#1a1a1a" stroke-width="1"/>
<line x1="838.62" y1="450.30" x2="838.62" y2="442.00" stroke="#1a1a1a" stroke-width="1"/>
<line x1="855.64" y1="121.50" x2="855.64" y2="126.70" stroke="#1a1a1a" stroke-width="1"/>
<line x1="872.66" y1="121.50" x2="872.66" y2="126.70" stroke="#1a1a1a" stroke-width="1"/>
<line x1="889.69" y1="121.50" x2="889.69" y2="126.70" stroke="#1a1a1a" stroke-width="1"/>
<line x1="906.71" y1="121.50" x2="906.71" y2="126.70" stroke="#1a1a1a" stroke-width="1"/>
<line x1="923.73" y1="121.50" x2="923.73" y2="127.25" stroke="#1a1a1a" stroke-width="1"/>
<line x1="923.73" y1="450.30" x2="923.73" y2="442.00" stroke="#1a1a1a" stroke-width="1"/>
<line x1="940.76" y1="121.50" x2="940.76" y2="126.70" stroke="#1a1a1a" stroke-width="1"/>
<line x1="957.78" y1="121.50" x2="957.78" y2="126.70" stroke="#1a1a1a" stroke-width="1"/>
<line x1="974.80" y1="121.50" x2="974.80" y2="126.70" stroke="#1a1a1a" stroke-width="1"/>
<line x1="991.83" y1="121.50" x2="991.83" y2="126.70" stroke="#1a1a1a" stroke-width="1"/>
<line x1="1008.85" y1="121.50" x2="1008.85" y2="127.25" stroke="#1a1a1a" stroke-width="1"/>
<line x1="1008.85" y1="450.30" x2="1008.85" y2="442.00" stroke="#1a1a1a" stroke-width="1"/>
<line x1="1025.87" y1="121.50" x2="1025.87" y2="126.70" stroke="#1a1a1a" stroke-width="1"/>
<line x1="1042.90" y1="121.50" x2="1042.90" y2="126.70" stroke="#1a1a1a" stroke-width="1"/>
<line x1="1059.92" y1="121.50" x2="1059.92" y2="126.70" stroke="#1a1a1a" stroke-width="1"/>
<line x1="1076.94" y1="121.50" x2="1076.94" y2="126.70" stroke="#1a1a1a" stroke-width="1"/>
<line x1="1093.97" y1="121.50" x2="1093.97" y2="129.50" stroke="#1a1a1a" stroke-width="1"/>
<line x1="1093.97" y1="450.30" x2="1093.97" y2="442.00" stroke="#1a1a1a" stroke-width="1"/>
<line x1="1110.99" y1="121.50" x2="1110.99" y2="126.70" stroke="#1a1a1a" stroke-width="1"/>
<line x1="1128.01" y1="121.50" x2="1128.01" y2="126.70" stroke="#1a1a1a" stroke-width="1"/>
<line x1="1145.04" y1="121.50" x2="1145.04" y2="126.70" stroke="#1a1a1a" stroke-width="1"/>
<line x1="1162.06" y1="121.50" x2="1162.06" y2="126.70" stroke="#1a1a1a" stroke-width="1"/>
<line x1="1179.08" y1="121.50" x2="1179.08" y2="129.50" stroke="#1a1a1a" stroke-width="1"/>
<line x1="1179.08" y1="450.30" x2="1179.08" y2="442.00" stroke="#1a1a1a" stroke-width="1"/>
<line x1="1196.11" y1="121.50" x2="1196.11" y2="126.70" stroke="#1a1a1a" stroke-width="1"/>
<line x1="1213.13" y1="121.50" x2="1213.13" y2="126.70" stroke="#1a1a1a" stroke-width="1"/>
<line x1="1230.15" y1="121.50" x2="1230.15" y2="126.70" stroke="#1a1a1a" stroke-width="1"/>
<line x1="1247.18" y1="121.50" x2="1247.18" y2="126.70" stroke="#1a1a1a" stroke-width="1"/>
<line x1="1264.20" y1="121.50" x2="1264.20" y2="129.50" stroke="#1a1a1a" stroke-width="1"/>
<line x1="1264.20" y1="450.30" x2="1264.20" y2="442.00" stroke="#1a1a1a" stroke-width="1"/>
<line x1="1274.50" y1="444.45" x2="1266.70" y2="444.45" stroke="#1a1a1a" stroke-width="1"/>
<line x1="742.90" y1="444.45" x2="751.40" y2="444.45" stroke="#1a1a1a" stroke-width="1"/>
<line x1="1274.50" y1="435.93" x2="1270.10" y2="435.93" stroke="#1a1a1a" stroke-width="1"/>
<line x1="1274.50" y1="427.41" x2="1270.10" y2="427.41" stroke="#1a1a1a" stroke-width="1"/>
<line x1="1274.50" y1="418.89" x2="1270.10" y2="418.89" stroke="#1a1a1a" stroke-width="1"/>
<line x1="1274.50" y1="410.37" x2="1270.10" y2="410.37" stroke="#1a1a1a" stroke-width="1"/>
<line x1="1274.50" y1="401.85" x2="1266.70" y2="401.85" stroke="#1a1a1a" stroke-width="1"/>
<line x1="742.90" y1="401.85" x2="751.40" y2="401.85" stroke="#1a1a1a" stroke-width="1"/>
<line x1="1274.50" y1="393.33" x2="1270.10" y2="393.33" stroke="#1a1a1a" stroke-width="1"/>
<line x1="1274.50" y1="384.81" x2="1270.10" y2="384.81" stroke="#1a1a1a" stroke-width="1"/>
<line x1="1274.50" y1="376.29" x2="1270.10" y2="376.29" stroke="#1a1a1a" stroke-width="1"/>
<line x1="1274.50" y1="367.77" x2="1270.10" y2="367.77" stroke="#1a1a1a" stroke-width="1"/>
<line x1="1274.50" y1="359.25" x2="1266.70" y2="359.25" stroke="#1a1a1a" stroke-width="1"/>
<line x1="742.90" y1="359.25" x2="751.40" y2="359.25" stroke="#1a1a1a" stroke-width="1"/>
<line x1="1274.50" y1="350.73" x2="1270.10" y2="350.73" stroke="#1a1a1a" stroke-width="1"/>
<line x1="1274.50" y1="342.21" x2="1270.10" y2="342.21" stroke="#1a1a1a" stroke-width="1"/>
<line x1="1274.50" y1="333.69" x2="1270.10" y2="333.69" stroke="#1a1a1a" stroke-width="1"/>
<line x1="1274.50" y1="325.17" x2="1270.10" y2="325.17" stroke="#1a1a1a" stroke-width="1"/>
<line x1="1274.50" y1="316.65" x2="1266.70" y2="316.65" stroke="#1a1a1a" stroke-width="1"/>
<line x1="742.90" y1="316.65" x2="751.40" y2="316.65" stroke="#1a1a1a" stroke-width="1"/>
<line x1="1274.50" y1="308.13" x2="1270.10" y2="308.13" stroke="#1a1a1a" stroke-width="1"/>
<line x1="1274.50" y1="299.61" x2="1270.10" y2="299.61" stroke="#1a1a1a" stroke-width="1"/>
<line x1="1274.50" y1="291.09" x2="1270.10" y2="291.09" stroke="#1a1a1a" stroke-width="1"/>
<line x1="1274.50" y1="282.57" x2="1270.10" y2="282.57" stroke="#1a1a1a" stroke-width="1"/>
<line x1="1274.50" y1="274.05" x2="1266.70" y2="274.05" stroke="#1a1a1a" stroke-width="1"/>
<line x1="742.90" y1="274.05" x2="751.40" y2="274.05" stroke="#1a1a1a" stroke-width="1"/>
<line x1="1274.50" y1="265.53" x2="1270.10" y2="265.53" stroke="#1a1a1a" stroke-width="1"/>
<line x1="1274.50" y1="257.01" x2="1270.10" y2="257.01" stroke="#1a1a1a" stroke-width="1"/>
<line x1="1274.50" y1="248.49" x2="1270.10" y2="248.49" stroke="#1a1a1a" stroke-width="1"/>
<line x1="1274.50" y1="239.97" x2="1270.10" y2="239.97" stroke="#1a1a1a" stroke-width="1"/>
<line x1="1274.50" y1="231.45" x2="1266.70" y2="231.45" stroke="#1a1a1a" stroke-width="1"/>
<line x1="742.90" y1="231.45" x2="751.40" y2="231.45" stroke="#1a1a1a" stroke-width="1"/>
<line x1="1274.50" y1="222.93" x2="1270.10" y2="222.93" stroke="#1a1a1a" stroke-width="1"/>
<line x1="1274.50" y1="214.41" x2="1270.10" y2="214.41" stroke="#1a1a1a" stroke-width="1"/>
<line x1="1274.50" y1="205.89" x2="1270.10" y2="205.89" stroke="#1a1a1a" stroke-width="1"/>
<line x1="1274.50" y1="197.37" x2="1270.10" y2="197.37" stroke="#1a1a1a" stroke-width="1"/>
<line x1="1274.50" y1="188.85" x2="1266.70" y2="188.85" stroke="#1a1a1a" stroke-width="1"/>
<line x1="742.90" y1="188.85" x2="751.40" y2="188.85" stroke="#1a1a1a" stroke-width="1"/>
<line x1="1274.50" y1="180.33" x2="1270.10" y2="180.33" stroke="#1a1a1a" stroke-width="1"/>
<line x1="1274.50" y1="171.81" x2="1270.10" y2="171.81" stroke="#1a1a1a" stroke-width="1"/>
<line x1="1274.50" y1="163.29" x2="1270.10" y2="163.29" stroke="#1a1a1a" stroke-width="1"/>
<line x1="1274.50" y1="154.77" x2="1270.10" y2="154.77" stroke="#1a1a1a" stroke-width="1"/>
<line x1="1274.50" y1="146.25" x2="1266.70" y2="146.25" stroke="#1a1a1a" stroke-width="1"/>
<line x1="742.90" y1="146.25" x2="751.40" y2="146.25" stroke="#1a1a1a" stroke-width="1"/>
<line x1="1274.50" y1="137.73" x2="1270.10" y2="137.73" stroke="#1a1a1a" stroke-width="1"/>
<line x1="1274.50" y1="129.21" x2="1270.10" y2="129.21" stroke="#1a1a1a" stroke-width="1"/>
<text x="0" y="0" transform="translate(649.69 376.15) scale(0.9620 1)" font-family='"Liberation Serif", serif' font-size="51" fill="#000">0.01</text>
<text x="0" y="0" transform="translate(649.45 290.95) scale(0.9620 1)" font-family='"Liberation Serif", serif' font-size="51" fill="#000">0.02</text>
<text x="0" y="0" transform="translate(648.66 205.75) scale(0.9620 1)" font-family='"Liberation Serif", serif' font-size="51" fill="#000">0.03</text>
<text x="0" y="0" transform="translate(696.74 461.05) scale(0.9620 1)" font-family='"Liberation Serif", serif' font-size="51" fill="#000">0</text>
<text x="0" y="0" transform="translate(722.82 493.70) scale(0.9350 1)" font-family='"Liberation Serif", serif' font-size="51" fill="#000">0.5</text>
<text x="0" y="0" transform="translate(892.83 493.70) scale(0.9350 1)" font-family='"Liberation Serif", serif' font-size="51" fill="#000">0.6</text>
<text x="0" y="0" transform="translate(1063.04 493.70) scale(0.9350 1)" font-family='"Liberation Serif", serif' font-size="51" fill="#000">0.7</text>
<text x="0" y="0" transform="translate(1233.50 493.70) scale(0.9350 1)" font-family='"Liberation Serif", serif' font-size="51" fill="#000">0.8</text>
<line x1="657.30" y1="87.80" x2="762.20" y2="87.80" stroke="#E2A018" stroke-width="4.8"/>
<circle cx="710.00" cy="87.85" r="7.9" fill="#fff" stroke="#E2A018" stroke-width="3.8"/>
<text x="781.02" y="98.00" font-family='"Liberation Serif", serif' font-size="42.5" font-style="italic" fill="#000">T</text>
<text x="802.86" y="103.20" font-family='"Liberation Serif", serif' font-size="27.5" fill="#000">pair</text>
<line x1="869.00" y1="87.90" x2="959.30" y2="87.90" stroke="#3E5FAD" stroke-width="4.5" stroke-dasharray="10 10"/>
<path d="M919.50 78.10L928.50 93.10L910.50 93.10Z" fill="#fff" stroke="#3E5FAD" stroke-width="4" stroke-linejoin="miter" stroke-miterlimit="10"/>
<text x="990.26" y="97.60" font-family='"Liberation Serif", serif' font-size="43" fill="#000">0.9</text>
<text x="1045.42" y="97.00" font-family='"Liberation Serif", serif' font-size="44" fill="#000">Δ</text>
<text x="0" y="0" transform="translate(1052.65 93.30) scale(0.9500 1)" font-family='"Liberation Serif", serif' font-size="54" fill="#000">˜</text>
<text x="1071.52" y="78.80" font-family='"Liberation Serif", serif' font-size="31" font-style="italic" fill="#000">s</text>
<line x1="1101.80" y1="87.55" x2="1202.00" y2="87.55" stroke="#5E2390" stroke-width="4.45" stroke-dasharray="10 10"/>
<path d="M1151.60 77.85L1161.35 87.60L1151.60 97.35L1141.85 87.60Z" fill="#fff" stroke="#5E2390" stroke-width="4" stroke-linejoin="miter"/>
<text x="1222.66" y="97.30" font-family='"Liberation Serif", serif' font-size="43" fill="#000">0.42</text>
<text x="1302.32" y="96.90" font-family='"Liberation Serif", serif' font-size="44" fill="#000">Δ</text>
<text x="0" y="0" transform="translate(1309.57 93.40) scale(0.9000 1)" font-family='"Liberation Serif", serif' font-size="54" fill="#000">˜</text>
<text x="0" y="0" transform="translate(1328.49 81.60) scale(1.1500 1)" font-family='"Liberation Serif", serif' font-size="32" font-style="italic" fill="#000">d</text>
<text x="0" y="0" transform="translate(995.66 550.80) scale(1.0600 1)" font-family='"Liberation Serif", serif' font-size="70" font-style="italic" fill="#000" stroke="#000" stroke-width="0.6" stroke-linejoin="round">n</text>
<text x="1033.50" y="563.80" font-family='"Liberation Serif", serif' font-size="43" font-style="italic" fill="#000">bx</text>
<g transform="translate(601.2 338.5) rotate(-90)">
<text x="-4.19" y="0.00" font-family='"Liberation Serif", serif' font-size="64" font-style="italic" fill="#000">T</text>
</g>
<g transform="translate(613.1 313.2) rotate(-90)">
<text x="-1.35" y="0.00" font-family='"Liberation Serif", serif' font-size="44" font-style="italic" fill="#000">c</text>
</g>
<g transform="translate(600.4 288.8) rotate(-90)">
<text x="0.00" y="11.00" font-family='"Liberation Serif", serif' font-size="88" fill="#000" stroke="#000" stroke-width="1.6">/</text>
</g>
<g transform="translate(602 262.7) rotate(-90)">
<text x="-2.81" y="0.00" font-family='"Liberation Serif", serif' font-size="64" font-style="italic" fill="#000">t</text>
</g>
<g transform="translate(611.3 240.4) rotate(-90)">
<text x="0" y="0" transform="translate(-5.91 0.00) scale(1.3600 1)" font-family='"DejaVu Sans", sans-serif' font-size="32.7" fill="#000">∥</text>
</g>
<g fill="none" stroke="#808080" stroke-width="6.4" stroke-linejoin="miter" stroke-linecap="butt">
<path d="M53.2 779.7L386.6 778.3L386.6 1006.0L53.2 1006.0Z"/>
<path d="M53.2 779.7L192.3 680.6L525.7 680.6L386.6 778.3" stroke-linejoin="bevel"/>
<path d="M525.7 679.1L525.7 907.6L386.6 1006.0" stroke-linejoin="bevel"/>
</g>
<g fill="none" stroke="#808080" stroke-width="6.4" stroke-linejoin="miter" stroke-linecap="butt">
<path d="M703.4 775.8L1038.4 774.6L1038.4 1003.6L703.4 1003.6Z"/>
<path d="M703.4 775.8L844.5 676.2L1179.5 676.2L1038.4 774.6" stroke-linejoin="bevel"/>
<path d="M1179.5 674.7L1179.5 904.6L1038.4 1003.6" stroke-linejoin="bevel"/>
</g>
<text x="0" y="0" transform="translate(169.98 769.40) scale(0.9100 1)" font-family='"Liberation Sans", sans-serif' font-size="59.6" fill="#000">Δ</text>
<text x="207.30" y="745.90" font-family='"Liberation Sans", sans-serif' font-size="39" font-style="italic" fill="#000" stroke="#000" stroke-width="0.45">s</text>
<text x="0" y="0" transform="translate(207.14 782.40) scale(1.3000 1)" font-family='"Liberation Sans", sans-serif' font-size="40" font-style="italic" fill="#000">t</text>
<text x="0" y="0" transform="translate(355.98 744.90) scale(0.9100 1)" font-family='"Liberation Sans", sans-serif' font-size="59.6" fill="#000">Δ</text>
<text x="393.30" y="721.40" font-family='"Liberation Sans", sans-serif' font-size="39" font-style="italic" fill="#000" stroke="#000" stroke-width="0.45">s</text>
<text x="0" y="0" transform="translate(393.14 757.90) scale(1.3000 1)" font-family='"Liberation Sans", sans-serif' font-size="40" font-style="italic" fill="#000">t</text>
<text x="0" y="0" transform="translate(325.08 890.10) scale(0.9100 1)" font-family='"Liberation Sans", sans-serif' font-size="59.6" fill="#000">Δ</text>
<text x="362.40" y="866.60" font-family='"Liberation Sans", sans-serif' font-size="39" font-style="italic" fill="#000" stroke="#000" stroke-width="0.45">s</text>
<text x="0" y="0" transform="translate(360.29 903.80) scale(0.9500 1)" font-family='"DejaVu Sans", sans-serif' font-size="39.6" fill="#000" stroke="#000" stroke-width="0.7">⊥</text>
<text x="0" y="0" transform="translate(419.58 930.00) scale(0.9100 1)" font-family='"Liberation Sans", sans-serif' font-size="59.6" fill="#000">Δ</text>
<text x="456.90" y="906.50" font-family='"Liberation Sans", sans-serif' font-size="39" font-style="italic" fill="#000" stroke="#000" stroke-width="0.45">s</text>
<text x="0" y="0" transform="translate(457.72 944.60) scale(1.0700 1)" font-family='"Liberation Sans", sans-serif' font-size="38" font-style="italic" fill="#000" stroke="#000" stroke-width="0.45">b</text>
<text x="0" y="0" transform="translate(178.68 985.50) scale(0.9100 1)" font-family='"Liberation Sans", sans-serif' font-size="59.6" fill="#000">Δ</text>
<text x="216.00" y="962.00" font-family='"Liberation Sans", sans-serif' font-size="39" font-style="italic" fill="#000" stroke="#000" stroke-width="0.45">s</text>
<text x="0" y="0" transform="translate(216.82 1000.10) scale(1.0700 1)" font-family='"Liberation Sans", sans-serif' font-size="38" font-style="italic" fill="#000" stroke="#000" stroke-width="0.45">b</text>
<text x="0" y="0" transform="translate(834.38 757.70) scale(0.9100 1)" font-family='"Liberation Sans", sans-serif' font-size="59.6" fill="#000">Δ</text>
<text x="0" y="0" transform="translate(871.84 734.20) scale(1.0800 1)" font-family='"Liberation Sans", sans-serif' font-size="40" font-style="italic" fill="#000" stroke="#000" stroke-width="0.45">d</text>
<text x="0" y="0" transform="translate(871.54 770.70) scale(1.3000 1)" font-family='"Liberation Sans", sans-serif' font-size="40" font-style="italic" fill="#000">t</text>
<text x="0" y="0" transform="translate(897.55 762.00) scale(1.0300 1)" font-family='"Liberation Sans", sans-serif' font-size="62" fill="#000">≈</text>
<text x="0" y="0" transform="translate(932.65 758.20) scale(0.9450 1)" font-family='"Liberation Sans", sans-serif' font-size="52.7" fill="#000">0</text>
<text x="994.02" y="735.70" font-family='"Liberation Sans", sans-serif' font-size="58" fill="#000" stroke="#000" stroke-width="0.8">-</text>
<text x="0" y="0" transform="translate(1013.68 735.20) scale(0.9100 1)" font-family='"Liberation Sans", sans-serif' font-size="59.6" fill="#000">Δ</text>
<text x="0" y="0" transform="translate(1051.14 711.70) scale(1.0800 1)" font-family='"Liberation Sans", sans-serif' font-size="40" font-style="italic" fill="#000" stroke="#000" stroke-width="0.45">d</text>
<text x="0" y="0" transform="translate(1050.84 748.20) scale(1.3000 1)" font-family='"Liberation Sans", sans-serif' font-size="40" font-style="italic" fill="#000">t</text>
<text x="0" y="0" transform="translate(1078.25 739.50) scale(1.0300 1)" font-family='"Liberation Sans", sans-serif' font-size="62" fill="#000">≈</text>
<text x="0" y="0" transform="translate(1113.65 735.70) scale(0.9450 1)" font-family='"Liberation Sans", sans-serif' font-size="52.7" fill="#000">0</text>
<text x="1063.42" y="910.80" font-family='"Liberation Sans", sans-serif' font-size="58" fill="#000" stroke="#000" stroke-width="0.8">-</text>
<text x="0" y="0" transform="translate(1083.08 910.30) scale(0.9100 1)" font-family='"Liberation Sans", sans-serif' font-size="59.6" fill="#000">Δ</text>
<text x="0" y="0" transform="translate(1120.54 886.80) scale(1.0800 1)" font-family='"Liberation Sans", sans-serif' font-size="40" font-style="italic" fill="#000" stroke="#000" stroke-width="0.45">d</text>
<text x="0" y="0" transform="translate(1121.22 924.90) scale(1.0700 1)" font-family='"Liberation Sans", sans-serif' font-size="38" font-style="italic" fill="#000" stroke="#000" stroke-width="0.45">b</text>
<text x="0" y="0" transform="translate(836.18 983.50) scale(0.9100 1)" font-family='"Liberation Sans", sans-serif' font-size="59.6" fill="#000">Δ</text>
<text x="0" y="0" transform="translate(873.64 960.00) scale(1.0800 1)" font-family='"Liberation Sans", sans-serif' font-size="40" font-style="italic" fill="#000" stroke="#000" stroke-width="0.45">d</text>
<text x="0" y="0" transform="translate(874.32 998.10) scale(1.0700 1)" font-family='"Liberation Sans", sans-serif' font-size="38" font-style="italic" fill="#000" stroke="#000" stroke-width="0.45">b</text>
</svg>
</body></html>
